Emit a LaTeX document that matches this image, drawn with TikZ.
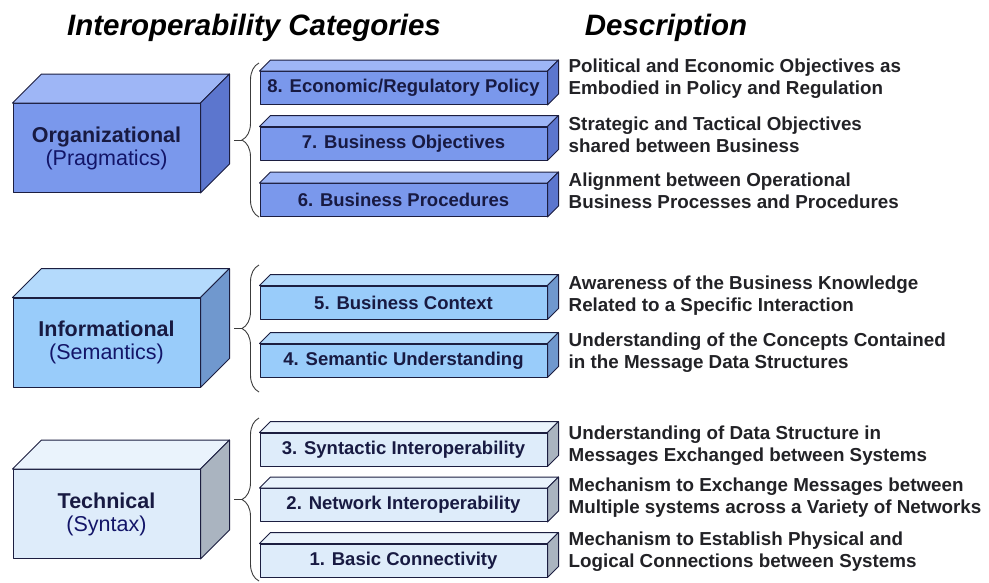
\documentclass[tikz,border=0pt]{standalone}
\usepackage{fontspec}
\setmainfont{Liberation Sans}
\usetikzlibrary{calc,positioning,decorations.pathreplacing}
\definecolor{iopedge}{RGB}{28,30,64}
\definecolor{iopnavy}{RGB}{24,26,66}
\definecolor{ioptext}{RGB}{34,34,38}
\definecolor{iopbrace}{RGB}{60,60,60}
\definecolor{orgfront}{RGB}{122,152,236}
\definecolor{orgtop}{RGB}{158,182,246}
\definecolor{orgside}{RGB}{92,118,206}
\definecolor{inffront}{RGB}{153,204,250}
\definecolor{inftop}{RGB}{180,218,252}
\definecolor{infside}{RGB}{112,152,206}
\definecolor{tecfront}{RGB}{222,236,250}
\definecolor{tectop}{RGB}{234,243,252}
\definecolor{tecside}{RGB}{170,180,192}

% top and right faces of a box drawn behind node #1
\newcommand\prismfaces[4]{%
  \draw[face, fill=#3] (#1.north west) -- ++(#2,-#2) -- ([shift={(#2,-#2)}]#1.north east) -- (#1.north east) -- cycle;
  \draw[face, fill=#4] (#1.north east) -- ++(#2,-#2) -- ([shift={(#2,-#2)}]#1.south east) -- (#1.south east) -- cycle;
}

\begin{document}
\begin{tikzpicture}[x=1pt, y=-1pt,
    face/.style={draw=iopedge, line width=1pt, line join=round},
    bigbox/.style={face, minimum width=187pt, minimum height=89pt, align=center, inner sep=0pt, text=iopnavy, font=\fontsize{21.5}{23}\selectfont},
    levelbar/.style={face, minimum width=287pt, minimum height=33pt, inner sep=0pt, text=iopnavy, font=\bfseries\fontsize{18.5}{22}\selectfont},
    desc/.style={align=left, inner sep=0pt, text=ioptext, font=\bfseries\fontsize{18.8}{22}\selectfont},
    heading/.style={font=\bfseries\itshape\fontsize{29.5}{32}\selectfont},
    grouping/.style={draw=iopbrace, line width=0.9pt, decorate, decoration={brace, amplitude=17pt}}
  ]
  \useasboundingbox (0,0) rectangle (989,582);

  \node[heading] (hcat) at (254,28) {Interoperability Categories};
  \node[heading] (hdesc) at (666,28) {Description};

  % categories
  \node[bigbox, fill=orgfront] (org) at (106.5,148) {{\bfseries Organizational}\\{\color{iopnavy!80!blue}(Pragmatics)}};
  \prismfaces{org}{29}{orgtop}{orgside}
  \node[bigbox, fill=inffront] (inf) at (106.5,342.5) {{\bfseries Informational}\\{\color{iopnavy!80!blue}(Semantics)}};
  \prismfaces{inf}{29}{inftop}{infside}
  \node[bigbox, fill=tecfront] (tec) at (106.5,514) {{\bfseries Technical}\\{\color{iopnavy!80!blue}(Syntax)}};
  \prismfaces{tec}{29}{tectop}{tecside}

  % levels
  \node[levelbar, fill=orgfront] (bar8) at (403.5,88) {8. Economic/Regulatory Policy};
  \prismfaces{bar8}{11}{orgtop}{orgside}
  \node[levelbar, fill=orgfront] (bar7) at (403.5,143.5) {7. Business Objectives};
  \prismfaces{bar7}{11}{orgtop}{orgside}
  \node[levelbar, fill=orgfront] (bar6) at (403.5,200) {6. Business Procedures};
  \prismfaces{bar6}{11}{orgtop}{orgside}
  \node[levelbar, fill=inffront] (bar5) at (403.5,302.5) {5. Business Context};
  \prismfaces{bar5}{11}{inftop}{infside}
  \node[levelbar, fill=inffront] (bar4) at (403.5,360.5) {4. Semantic Understanding};
  \prismfaces{bar4}{11}{inftop}{infside}
  \node[levelbar, fill=tecfront] (bar3) at (403.5,449.5) {3. Syntactic Interoperability};
  \prismfaces{bar3}{11}{tectop}{tecside}
  \node[levelbar, fill=tecfront] (bar2) at (403.5,505) {2. Network Interoperability};
  \prismfaces{bar2}{11}{tectop}{tecside}
  \node[levelbar, fill=tecfront] (bar1) at (403.5,560.5) {1. Basic Connectivity};
  \prismfaces{bar1}{11}{tectop}{tecside}

  % descriptions
  \node[desc, right=21pt of bar8, yshift=9pt] (desc8) {Political and Economic Objectives as\\Embodied in Policy and Regulation};
  \node[desc, right=21pt of bar7, yshift=9pt] (desc7) {Strategic and Tactical Objectives\\shared between Business};
  \node[desc, right=21pt of bar6, yshift=9pt] (desc6) {Alignment between Operational\\Business Processes and Procedures};
  \node[desc, right=21pt of bar5, yshift=7pt] (desc5) {Awareness of the Business Knowledge\\Related to a Specific Interaction};
  \node[desc, right=21pt of bar4, yshift=8pt] (desc4) {Understanding of the Concepts Contained\\in the Message Data Structures};
  \node[desc, right=21pt of bar3, yshift=4pt] (desc3) {Understanding of Data Structure in\\Messages Exchanged between Systems};
  \node[desc, right=21pt of bar2, yshift=7pt] (desc2) {Mechanism to Exchange Messages between\\Multiple systems across a Variety of Networks};
  \node[desc, right=21pt of bar1, yshift=9pt] (desc1) {Mechanism to Establish Physical and\\Logical Connections between Systems};

  % braces
  \coordinate (g1bot) at (259,217);
  \coordinate (g1top) at (259,63);
  \coordinate (g2bot) at (259,392);
  \coordinate (g2top) at (259,265);
  \coordinate (g3bot) at (259,581);
  \coordinate (g3top) at (259,418);
  \draw[grouping] (g1bot) -- (g1top);
  \draw[grouping] (g2bot) -- (g2top);
  \draw[grouping] (g3bot) -- (g3top);
  \coordinate (g1tip) at ($(g1bot)!0.5!(g1top)+(-17,0)$);
  \coordinate (g2tip) at ($(g2bot)!0.5!(g2top)+(-17,0)$);
  \coordinate (g3tip) at ($(g3bot)!0.5!(g3top)+(-17,0)$);
  \draw[draw=iopbrace, line width=0.9pt] (g1tip) -- ++(-8,0);
  \draw[draw=iopbrace, line width=0.9pt] (g2tip) -- ++(-8,0);
  \draw[draw=iopbrace, line width=0.9pt] (g3tip) -- ++(-8,0);
\end{tikzpicture}
\end{document}
